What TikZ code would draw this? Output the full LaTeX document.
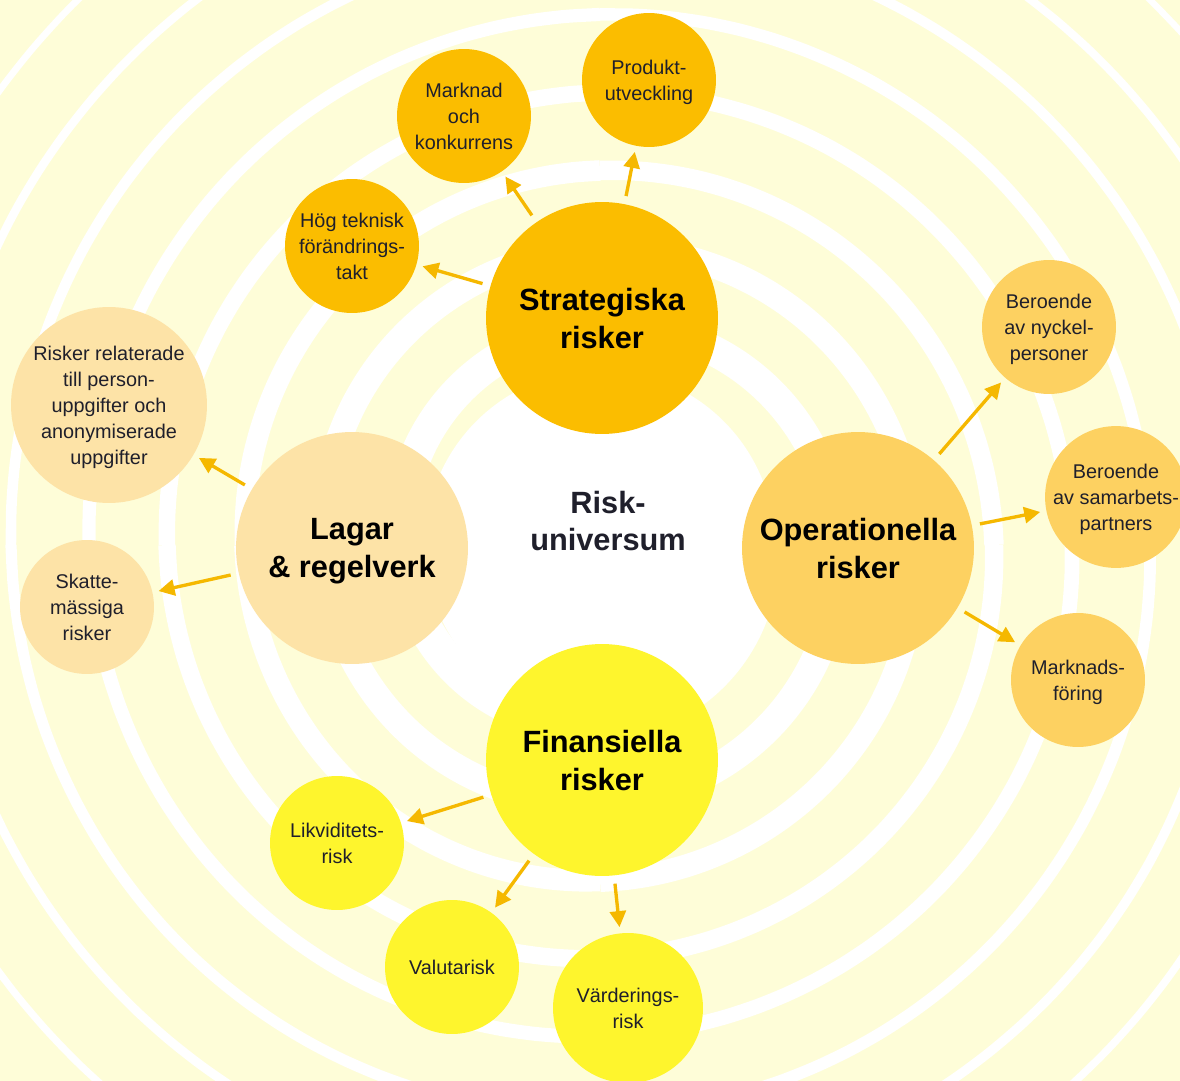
\documentclass[tikz,border=0pt]{standalone}
\usepackage{fontspec}
\setmainfont{Liberation Sans}
\usepackage{tikz}
\usetikzlibrary{arrows.meta}

\definecolor{bgyellow}{HTML}{FEFDD8}
\definecolor{stratc}{HTML}{FBBD00}
\definecolor{lagc}{HTML}{FDE3A7}
\definecolor{opc}{HTML}{FDD161}
\definecolor{finc}{HTML}{FEF52D}
\definecolor{arrowc}{HTML}{F5B800}
\definecolor{txtdark}{HTML}{1F1F2B}

\def\hubfont{\fontsize{17.5}{21.5}\selectfont\bfseries}
\def\leaffont{\fontsize{11.3}{14.8}\selectfont}

\tikzset{
    hub/.style={circle, minimum size=4.64cm, inner sep=0pt, align=center, font=\hubfont, text=black,
        text depth=-4.5pt},
    leaf/.style={circle, minimum size=2.68cm, inner sep=0pt, align=center, font=\leaffont, text=txtdark,
        text depth=-4.6pt},
    riskarrow/.style={-{Triangle[length=0.32cm, width=0.32cm]}, arrowc, line width=1.9pt,
        shorten <=0.16cm, shorten >=0.12cm}
}

\begin{document}
\begin{tikzpicture}[x=0.02cm, y=-0.02cm]
    \useasboundingbox (0,0) rectangle (1180,1081);
    \clip (0,0) rectangle (1180,1081);

    % background swirl
    \fill[bgyellow] (0,0) rectangle (1180,1081);
    \foreach \k in {0,...,44}
    {
        \pgfmathsetmacro\w{max(4,36*exp(-\k/18))}
        \pgfmathsetmacro\da{\k*90}
        \pgfmathsetmacro\db{(\k+1)*90}
        \draw[white, line width=\w*0.567pt]
            plot[domain=\da:\db, samples=25, smooth]
            ({600+(160+\x/4.615)*cos(\x)}, {545+(160+\x/4.615)*sin(\x)});
    }
    \fill[white] (600,545) circle (175);

    % hubs
    \node[hub, fill=stratc] (strat) at (602,318) {Strategiska\\risker};
    \node[hub, fill=lagc]   (lag)   at (352,548) {Lagar\\\& regelverk};
    \node[hub, fill=opc]    (op)    at (858,548) {Operationella\\risker};
    \node[hub, fill=finc]   (fin)   at (602,760) {Finansiella\\risker};

    \node[font=\hubfont, text=txtdark, align=center] (univ) at (608,521) {Risk-\\universum};

    % strategiska
    \node[leaf, fill=stratc] (mark) at (464,116) {Marknad\\och\\konkurrens};
    \node[leaf, fill=stratc] (prod) at (649,80)  {Produkt-\\utveckling};
    \node[leaf, fill=stratc] (hog)  at (352,246) {Hög teknisk\\förändrings-\\takt};

    % lagar
    \node[leaf, fill=lagc, minimum size=3.92cm, text depth=-7.6pt] (pers) at (109,405)
        {Risker relaterade\\till person-\\uppgifter och\\anonymiserade\\uppgifter};
    \node[leaf, fill=lagc] (skatt) at (87,607) {Skatte-\\mässiga\\risker};

    % operationella
    \node[leaf, fill=opc] (nyck) at (1049,327) {Beroende\\av nyckel-\\personer};
    \node[leaf, fill=opc] (samb) at (1116,497) {Beroende\\av samarbets-\\partners};
    \node[leaf, fill=opc] (mfor) at (1078,680) {Marknads-\\föring};

    % finansiella
    \node[leaf, fill=finc] (likv) at (337,843) {Likviditets-\\risk};
    \node[leaf, fill=finc, text depth=0pt] (valu) at (452,967) {Valutarisk};
    \node[leaf, fill=finc, minimum size=3.0cm] (vard) at (628,1008) {Värderings-\\risk};

    % arrows
    \foreach \from/\to in {
        strat/mark, strat/prod, strat/hog,
        lag/pers, lag/skatt,
        op/nyck, op/samb, op/mfor,
        fin/likv, fin/valu, fin/vard}
    {
        \draw[riskarrow] (\from) -- (\to);
    }
\end{tikzpicture}
\end{document}
